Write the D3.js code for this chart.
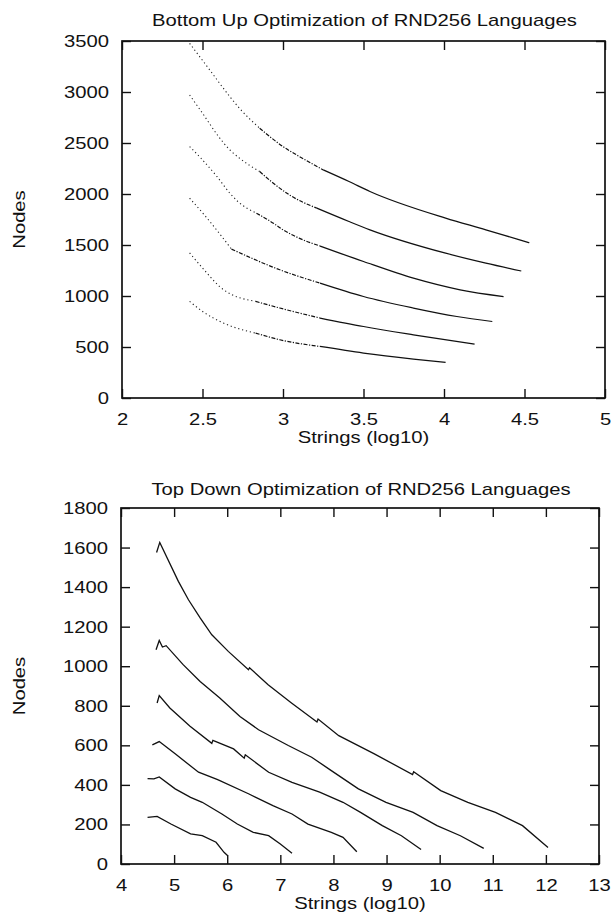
<!DOCTYPE html>
<html>
<head>
<meta charset="utf-8">
<script src="https://cdn.jsdelivr.net/npm/d3@7"></script>
<style>
  html, body { margin: 0; padding: 0; background: #fff; }
  svg text { font-family: "Liberation Sans", Arial, Helvetica, sans-serif; fill: #111; }
  .axisGraph line { stroke: #111; stroke-width: 1.4; }
  .axisGraph text { font-size: 17px; }
</style>
</head>
<body>
<script>

/************************************************************************************************************/
// data read off the picture : [log10 strings, nodes]

var buXTicks = [2, 2.5, 3, 3.5, 4, 4.5, 5];
var buYTicks = [0, 500, 1000, 1500, 2000, 2500, 3000, 3500];

var bu1 = [[2.42,3477],[2.545,3216],[2.67,2954],[2.73,2840],[2.855,2645],[3.0,2465],[3.12,2351],[3.25,2236],
  [3.41,2122],[3.54,2024],[4.01,1763],[4.26,1649],[4.47,1550],[4.53,1522]];
var bu2 = [[2.42,2971],[2.5,2792],[2.6,2563],[2.67,2432],[2.73,2351],[2.855,2220],[2.94,2106],[3.04,1991],
  [3.21,1861],[3.41,1730],[3.54,1649],[4.01,1420],[4.26,1322],[4.48,1245]];
var bu3 = [[2.42,2465],[2.49,2351],[2.59,2171],[2.67,2008],[2.72,1926],[2.835,1812],[2.94,1714],[3.0,1649],
  [3.1,1567],[3.23,1490],[3.5,1338],[3.81,1175],[4.1,1061],[4.37,995]];
var bu4 = [[2.42,1959],[2.52,1779],[2.68,1460],[2.98,1257],[3.23,1126],[3.5,995],[3.81,882],
  [4.08,799],[4.3,750]];
var bu5 = [[2.42,1422],[2.5,1275],[2.63,1062],[2.83,947],[2.98,882],[3.23,784],[3.5,701],[3.81,620],[4.19,529]];
var bu6 = [[2.42,947],[2.5,849],[2.63,735],[2.83,636],[2.98,571],[3.23,505],[3.5,441],[3.81,382],[4.01,349]];

var tdXTicks = [4, 5, 6, 7, 8, 9, 10, 11, 12, 13];
var tdYTicks = [0, 200, 400, 600, 800, 1000, 1200, 1400, 1600, 1800];

var td1 = [[4.67,1575],[4.73,1626],[5.08,1429],[5.27,1336],[5.49,1244],[5.71,1159],[6.02,1075],[6.4,982],
  [6.42,992],[6.77,906],[7.21,814],[7.69,718],[7.71,733],[8.1,649],[8.77,557],[9.49,452],[9.51,466],
  [10.02,371],[10.53,312],[11.05,261],[11.56,194],[12.04,84]];
var td2 = [[4.66,1083],[4.72,1130],[4.78,1097],[4.85,1104],[5.17,1008],[5.49,923],[5.86,839],[6.24,746],
  [6.59,679],[7.15,599],[7.59,540],[7.96,472],[8.47,380],[8.99,312],[9.5,261],[9.95,194],[10.39,143],[10.83,79]];
var td3 = [[4.68,814],[4.72,852],[4.92,789],[5.3,696],[5.71,610],[5.73,625],[6.12,582],[6.32,535],[6.34,552],
  [6.78,464],[7.22,413],[7.74,363],[8.18,312],[8.51,261],[8.92,194],[9.28,143],[9.65,73]];
var td4 = [[4.59,602],[4.72,619],[5.02,557],[5.46,464],[5.82,427],[6.41,354],[6.86,295],[7.22,253],
  [7.52,202],[7.96,160],[8.18,135],[8.44,62]];
var td5 = [[4.5,432],[4.62,430],[4.72,440],[5.02,380],[5.31,337],[5.53,312],[5.9,253],[6.19,202],[6.49,160],
  [6.78,143],[7.0,101],[7.22,54]];
var td6 = [[4.5,236],[4.68,241],[4.94,202],[5.31,152],[5.53,143],[5.79,110],[5.94,59],[6.01,42]];

/************************************************************************************************************/

var svg = d3.select("body").append("svg").attr("width", 613).attr("height", 916);

var STRETCH = 1.19; // the scanned font is wide

function drawFrame(g, x, y, xTicks, yTicks, title, titleY){

  var x0 = x.range()[0], x1 = x.range()[1], y0 = y.range()[0], y1 = y.range()[1];

  var bottom = g.append("g").attr("class", "axisGraph").attr("transform", "translate(0," + y0 + ")")
    .call(d3.axisBottom(x).tickValues(xTicks).tickSizeInner(-9).tickSizeOuter(0).tickPadding(15).tickFormat(d3.format("")));
  var left = g.append("g").attr("class", "axisGraph").attr("transform", "translate(" + x0 + ",0)")
    .call(d3.axisLeft(y).tickValues(yTicks).tickSizeInner(-9).tickSizeOuter(0).tickPadding(11).tickFormat(d3.format("")));
  var top = g.append("g").attr("class", "axisGraph").attr("transform", "translate(0," + y1 + ")")
    .call(d3.axisTop(x).tickValues(xTicks).tickSizeInner(-9).tickSizeOuter(0).tickFormat(""));
  var right = g.append("g").attr("class", "axisGraph").attr("transform", "translate(" + x1 + ",0)")
    .call(d3.axisRight(y).tickValues(yTicks).tickSizeInner(-9).tickSizeOuter(0).tickFormat(""));

  [bottom, left, top, right].forEach(function(a){ a.select(".domain").remove(); });
  bottom.selectAll("text").attr("fill", "#111").attr("transform", "scale(" + STRETCH + ",1)");
  left.selectAll("text").attr("fill", "#111").attr("transform", "scale(" + STRETCH + ",1)");

  g.append("rect")
    .attr("x", x0).attr("y", y1).attr("width", x1 - x0).attr("height", y0 - y1)
    .attr("fill", "none").attr("stroke", "#111").attr("stroke-width", 1.7);

  var cx = (x0 + x1) / 2;

  g.append("text")
    .attr("text-anchor", "middle").attr("font-size", 17)
    .attr("transform", "translate(" + (cx + 1) + "," + titleY + ") scale(" + STRETCH + ",1)")
    .text(title);

  g.append("text")
    .attr("text-anchor", "middle").attr("font-size", 17)
    .attr("transform", "translate(" + cx + "," + (y0 + 45) + ") scale(" + STRETCH + ",1)")
    .text("Strings (log10)");

  g.append("text")
    .attr("text-anchor", "middle").attr("font-size", 17)
    .attr("transform", "translate(25," + ((y0 + y1) / 2) + ") rotate(-90) scale(" + STRETCH + ",1)")
    .text("Nodes");
}

/************************************************************************************************************/
// Bottom up : sparse dots at the start, then dash-dots, then solid

var xBU = d3.scaleLinear().domain([2, 5]).range([122, 605]);
var yBU = d3.scaleLinear().domain([0, 3500]).range([398, 41]);

var gBU = svg.append("g");
drawFrame(gBU, xBU, yBU, buXTicks, buYTicks, "Bottom Up Optimization of RND256 Languages", 26);

var lineBU = d3.line().x(function(d){ return xBU(d[0]); }).y(function(d){ return yBU(d[1]); })
  .curve(d3.curveMonotoneX);

function piece(s, from, to){
  return s.filter(function(d){ return d[0] >= from && d[0] <= to; });
}

[bu1, bu2, bu3, bu4, bu5, bu6].forEach(function(s){
  var head = piece(s, 0, 2.9);
  var mid = piece(s, head[head.length - 1][0], 3.25);
  var tail = piece(s, mid[mid.length - 1][0], 9);
  gBU.append("path").attr("d", lineBU(head))
    .attr("fill", "none").attr("stroke", "#222").attr("stroke-width", 1.1).attr("stroke-dasharray", "1.2,2.8");
  gBU.append("path").attr("d", lineBU(mid))
    .attr("fill", "none").attr("stroke", "#111").attr("stroke-width", 1.2).attr("stroke-dasharray", "4,1.5,1.2,1.5");
  gBU.append("path").attr("d", lineBU(tail))
    .attr("fill", "none").attr("stroke", "#111").attr("stroke-width", 1.25);
});

/************************************************************************************************************/
// Top down

var xTD = d3.scaleLinear().domain([4, 13]).range([121, 599]);
var yTD = d3.scaleLinear().domain([0, 1800]).range([864, 508]);

var gTD = svg.append("g");
drawFrame(gTD, xTD, yTD, tdXTicks, tdYTicks, "Top Down Optimization of RND256 Languages", 495);

var lineTD = d3.line().x(function(d){ return xTD(d[0]); }).y(function(d){ return yTD(d[1]); });

[td1, td2, td3, td4, td5, td6].forEach(function(s){
  gTD.append("path").attr("d", lineTD(s))
    .attr("fill", "none").attr("stroke", "#111").attr("stroke-width", 1.3);
});

</script>
</body>
</html>
